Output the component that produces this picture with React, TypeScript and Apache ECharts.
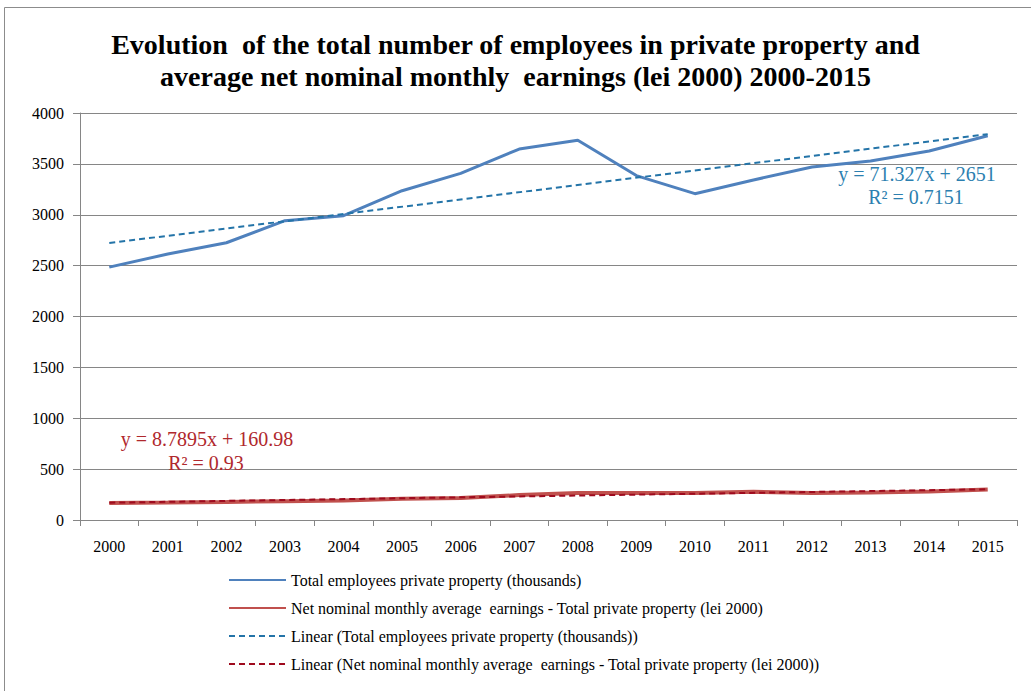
import React, { useEffect, useRef } from "react";
import * as echarts from "echarts";

const years = ["2000","2001","2002","2003","2004","2005","2006","2007","2008","2009","2010","2011","2012","2013","2014","2015"];
const employees = [2485, 2614, 2725, 2942, 2991, 3236, 3407, 3646, 3732, 3385, 3207, 3342, 3469, 3528, 3627, 3777];
const earnings = [167, 172, 178, 185, 192, 209, 216, 245, 265, 265, 265, 277, 265, 270, 280, 300];
const employeesTrendEnds = [2722, 3792];
const earningsTrendEnds = [170, 302];
const yMin = 0;
const yMax = 4000;
const yStep = 500;

const nameEmp = "Total employees private property (thousands)";
const nameEarn = "Net nominal monthly average  earnings - Total private property (lei 2000)";
const nameEmpTrend = "Linear (Total employees private property (thousands))";
const nameEarnTrend = "Linear (Net nominal monthly average  earnings - Total private property (lei 2000))";

const SERIF = "Liberation Serif";

export default function App() {
  const ref = useRef<HTMLDivElement>(null);
  useEffect(() => {
    document.body.style.margin = "0";
    if (!ref.current) return;
    const chart = echarts.init(ref.current, null, { renderer: "svg" });
    const last = years.length - 1;
    chart.setOption({
      animation: false,
      backgroundColor: "#ffffff",
      title: {
        text: "Evolution  of the total number of employees in private property and\naverage net nominal monthly  earnings (lei 2000) 2000-2015",
        left: "center",
        top: 23,
        textStyle: {
          fontFamily: SERIF,
          fontWeight: "bold",
          fontSize: 28,
          lineHeight: 32,
          color: "#000000",
        },
      },
      grid: { left: 80, right: 14, top: 113, bottom: 171, containLabel: false },
      legend: {
        orient: "vertical",
        left: 223,
        top: 567,
        itemWidth: 57,
        itemHeight: 14,
        itemGap: 12,
        itemStyle: { opacity: 0, borderWidth: 0 },
        textStyle: { fontFamily: SERIF, fontSize: 16, color: "#000000", lineHeight: 16 },
        data: [nameEmp, nameEarn, nameEmpTrend, nameEarnTrend],
      },
      xAxis: {
        type: "category",
        data: years,
        boundaryGap: true,
        axisLine: { lineStyle: { color: "#868686", width: 1 } },
        axisTick: { show: true, alignWithLabel: false, length: 6, lineStyle: { color: "#868686" } },
        axisLabel: { fontFamily: SERIF, fontSize: 16, color: "#000000", margin: 18, interval: 0 },
      },
      yAxis: {
        type: "value",
        min: yMin,
        max: yMax,
        interval: yStep,
        axisLine: { show: true, lineStyle: { color: "#868686", width: 1 } },
        axisTick: { show: true, length: 7, lineStyle: { color: "#868686" } },
        splitLine: { show: true, lineStyle: { color: "#868686", width: 1 } },
        axisLabel: {
          fontFamily: SERIF,
          fontSize: 16,
          color: "#000000",
          margin: 16,
          formatter: (v: number) => String(v),
        },
      },
      series: [
        {
          name: nameEmp,
          type: "line",
          data: employees,
          symbol: "none",
          lineStyle: { color: "#4F81BD", width: 3 },
          itemStyle: { color: "#4F81BD" },
          z: 3,
        },
        {
          name: nameEarn,
          type: "line",
          data: earnings,
          symbol: "none",
          lineStyle: { color: "#C0504D", width: 4 },
          itemStyle: { color: "#C0504D" },
          z: 3,
        },
        {
          name: nameEmpTrend,
          type: "line",
          data: [[years[0], employeesTrendEnds[0]], [years[last], employeesTrendEnds[1]]],
          symbol: "none",
          lineStyle: { color: "#2474A8", width: 2, type: [6, 4] },
          itemStyle: { color: "#2474A8" },
          z: 4,
        },
        {
          name: nameEarnTrend,
          type: "line",
          data: [[years[0], earningsTrendEnds[0]], [years[last], earningsTrendEnds[1]]],
          symbol: "none",
          lineStyle: { color: "#9E0A1E", width: 2, type: [6, 4] },
          itemStyle: { color: "#9E0A1E" },
          z: 4,
        },
      ],
      graphic: [
        {
          type: "rect",
          shape: { x: 4.5, y: 7.5, width: 1100, height: 800 },
          style: { fill: "none", stroke: "#8c8c8c", lineWidth: 1 },
          silent: true,
          z: -10,
        },
        {
          type: "text",
          x: 917,
          y: 174,
          style: {
            text: "y = 71.327x + 2651",
            fontFamily: SERIF,
            fontSize: 20,
            fill: "#2C7FB0",
            align: "center",
            verticalAlign: "middle",
          },
          z: 10,
        },
        {
          type: "text",
          x: 916,
          y: 197,
          style: {
            text: "R² = 0.7151",
            fontFamily: SERIF,
            fontSize: 20,
            fill: "#2C7FB0",
            align: "center",
            verticalAlign: "middle",
          },
          z: 10,
        },
        {
          type: "text",
          x: 207,
          y: 439,
          style: {
            text: "y = 8.7895x + 160.98",
            fontFamily: SERIF,
            fontSize: 20,
            fill: "#B0282D",
            align: "center",
            verticalAlign: "middle",
          },
          z: 10,
        },
        {
          type: "text",
          x: 206,
          y: 463,
          style: {
            text: "R² = 0.93",
            fontFamily: SERIF,
            fontSize: 20,
            fill: "#B0282D",
            align: "center",
            verticalAlign: "middle",
          },
          z: 10,
        },
      ],
    });
    return () => chart.dispose();
  }, []);
  return <div ref={ref} style={{ width: 1031, height: 691 }} />;
}
